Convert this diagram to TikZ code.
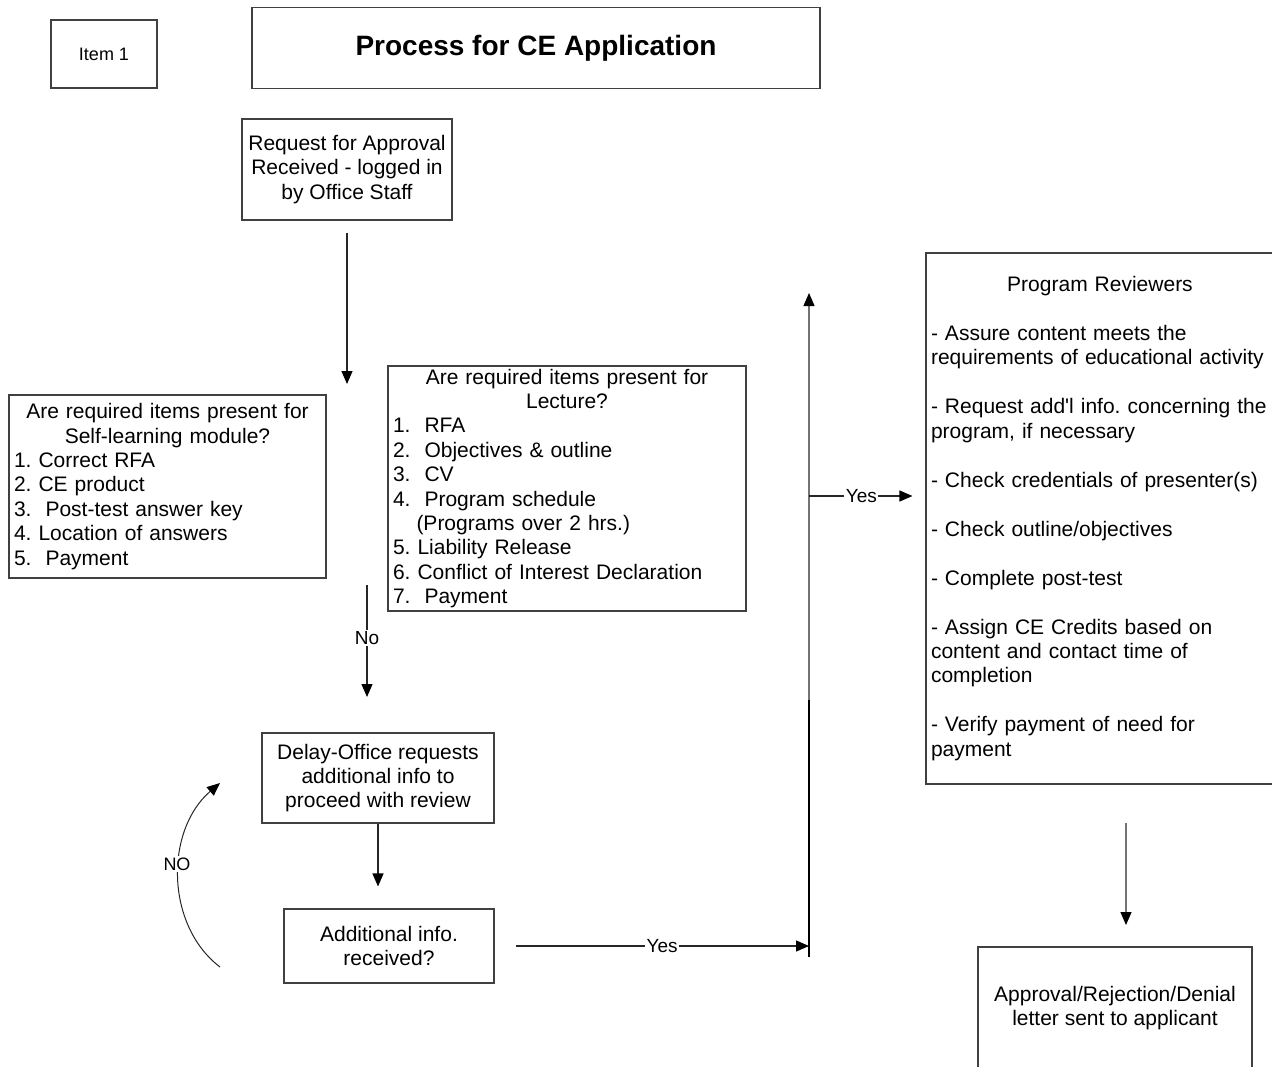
\documentclass[tikz,border=0pt]{standalone}
\usepackage{fontspec}
\setmainfont{Liberation Sans}
\usetikzlibrary{arrows.meta}
\AtBeginDocument{\frenchspacing}
\begin{document}
\begin{tikzpicture}[x=1pt,y=-1pt,
  bx/.style={draw=black!75, line width=1.1pt, inner xsep=5pt, inner ysep=0pt,
    font=\fontsize{21}{24.4}\selectfont},
  ln/.style={draw=black!85, line width=1.2pt},
  arr/.style={ln, -{Triangle[length=13pt,width=11pt,color=black]}},
  lbl/.style={fill=white, inner sep=1.5pt, font=\fontsize{19}{21}\selectfont}]
\useasboundingbox (0,0) rectangle (1272,1066);

% boxes
\node[bx, minimum width=106pt, minimum height=68pt, font=\fontsize{18}{20}\selectfont] (item) at (104,54) {Item 1};
\node[bx, minimum width=568pt, minimum height=81pt, font=\bfseries\fontsize{28}{32}\selectfont] (title) at (536,48) {Process for CE Application};
\node[bx, minimum width=210pt, minimum height=101pt, align=center] (req) at (347,169.5) {Request for Approval\\Received - logged in\\by Office Staff};
\node[bx, minimum width=317pt, minimum height=183pt, text width=307pt, align=left] (self) at (167.5,486.5)
  {\makebox[307pt]{Are required items present for}\\
   \makebox[307pt]{Self-learning module?}\\
   1. Correct RFA\\
   2. CE product\\
   3.\ \ Post-test answer key\\
   4. Location of answers\\
   5.\ \ Payment};
\node[bx, minimum width=358pt, minimum height=245pt, text width=348pt, align=left] (lect) at (567,488.5)
  {\makebox[348pt]{Are required items present for}\\
   \makebox[348pt]{Lecture?}\\
   1.\ \ RFA\\
   2.\ \ Objectives \& outline\\
   3.\ \ CV\\
   4.\ \ Program schedule\\
   \hspace*{23.5pt}(Programs over 2 hrs.)\\
   5. Liability Release\\
   6. Conflict of Interest Declaration\\
   7.\ \ Payment};
\node[bx, minimum width=232pt, minimum height=90pt, align=center] (delay) at (378,778) {Delay-Office requests\\additional info to\\proceed with review};
\node[bx, minimum width=210pt, minimum height=74pt, align=center] (add) at (389,946) {Additional info.\\received?};
\node[bx, minimum width=348pt, minimum height=531pt, text width=338pt, align=left,
  font=\fontsize{21}{24.47}\selectfont] (rev) at (1100,518.5)
  {\makebox[338pt]{Program Reviewers}\\[24.47pt]
   - Assure content meets the\\
   requirements of educational activity\\[24.47pt]
   - Request add\textquotesingle l info. concerning the\\
   program, if necessary\\[24.47pt]
   - Check credentials of presenter(s)\\[24.47pt]
   - Check outline/objectives\\[24.47pt]
   - Complete post-test\\[24.47pt]
   - Assign CE Credits based on\\
   content and contact time of\\
   completion\\[24.47pt]
   - Verify payment of need for\\
   payment};
\node[bx, minimum width=274pt, minimum height=122pt, align=center] (appr) at (1115,1008) {Approval/Rejection/Denial\\letter sent to applicant};

% free ends
\coordinate (selfin) at (347,384);
\coordinate (no1) at (367,585);
\coordinate (no2) at (367,697);
\coordinate (vy) at (809,946);
\coordinate (vb) at (809,957);
\coordinate (vm) at (809,700);
\coordinate (vt) at (809,293);
\coordinate (vy2) at (809,496);
\coordinate (c1) at (220,967);
\coordinate (c2) at (220,783);
\coordinate (r1) at (1126,823);
\coordinate (r2) at (1126,925);

% connectors
\draw[arr, shorten <=12pt] (req.south) -- (selfin);
\draw[arr] (no1) -- node[lbl, pos=0.47] (nolab) {No} (no2);
\draw[arr, shorten >=22pt] (delay.south) -- (delay.south |- add.north);
\draw[arr, shorten <=21pt] (add.east) -- node[lbl, pos=0.533] (yes1) {Yes} (vy);
\draw[line width=2.5pt, black] (vb) -- (vm);
\draw[arr, draw=black!55] (vm) -- (vt);
\draw[arr, shorten >=13pt] (vy2) -- node[lbl, pos=0.45] (yes2) {Yes} (vy2 -| rev.west);
\draw[arr, line width=1pt] (c1) .. controls (165,925) and (165,830) .. (c2);
\node[lbl, font=\fontsize{18}{20}\selectfont] (NOlab) at (177,864) {NO};
\draw[arr, draw=black!55] (r1) -- (r2);
\end{tikzpicture}
\end{document}
